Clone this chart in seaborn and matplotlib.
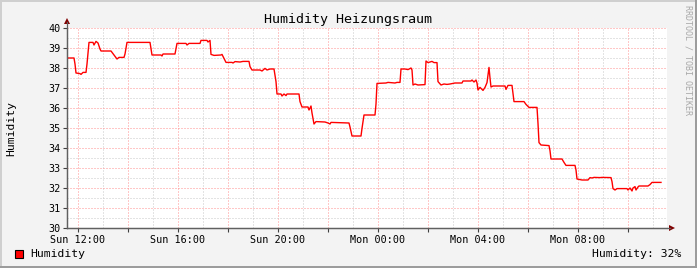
import matplotlib
matplotlib.use("Agg")
import matplotlib.pyplot as plt
import seaborn as sns
import pandas as pd
from matplotlib.patches import Rectangle, Polygon
from matplotlib.lines import Line2D

# ---- data (hours since Sun 00:00, humidity %) ----
hours = [11.56, 11.84, 11.88, 11.92, 12.08, 12.12, 12.20, 12.32, 12.36, 12.44,
         12.60, 12.64, 12.72, 12.80, 12.88, 12.92, 13.32, 13.44, 13.56, 13.64,
         13.84, 13.88, 13.96, 14.88, 14.92, 14.96, 15.32, 15.36, 15.40, 15.88,
         15.96, 16.32, 16.36, 16.44, 16.88, 16.92, 17.16, 17.20, 17.28, 17.32,
         17.44, 17.72, 17.76, 17.84, 17.92, 18.16, 18.20, 18.28, 18.48, 18.60,
         18.84, 18.88, 18.96, 19.28, 19.36, 19.48, 19.56, 19.68, 19.84, 19.92,
         19.96, 20.12, 20.16, 20.24, 20.32, 20.36, 20.84, 20.88, 20.96, 21.20,
         21.24, 21.32, 21.36, 21.44, 21.52, 21.88, 22.00, 22.08, 22.12, 22.84,
         22.88, 22.96, 23.32, 23.36, 23.44, 23.88, 23.92, 23.96, 24.32, 24.40,
         24.68, 24.76, 24.88, 24.92, 25.08, 25.20, 25.32, 25.36, 25.40, 25.48,
         25.60, 25.88, 25.92, 26.00, 26.16, 26.24, 26.36, 26.40, 26.52, 26.64,
         26.76, 26.88, 27.08, 27.36, 27.40, 27.72, 27.76, 27.84, 27.92, 27.96,
         28.00, 28.08, 28.20, 28.28, 28.36, 28.44, 28.48, 28.52, 28.60, 29.08,
         29.12, 29.20, 29.36, 29.40, 29.44, 29.84, 29.92, 30.04, 30.36, 30.40,
         30.44, 30.52, 30.84, 30.88, 30.92, 31.36, 31.44, 31.52, 31.88, 31.92,
         31.96, 32.04, 32.16, 32.40, 32.48, 32.56, 32.64, 32.88, 32.96, 33.32,
         33.36, 33.40, 33.48, 33.56, 33.96, 34.00, 34.08, 34.16, 34.20, 34.28,
         34.32, 34.40, 34.44, 34.80, 34.88, 34.96, 35.32]
humidity = [38.5, 38.5, 38.2, 37.75, 37.72, 37.68, 37.78, 37.78, 38.2, 39.28,
            39.28, 39.15, 39.33, 39.25, 38.95, 38.85, 38.85, 38.65, 38.45, 38.53,
            38.53, 38.7, 39.28, 39.28, 38.98, 38.65, 38.65, 38.6, 38.7, 38.7,
            39.23, 39.23, 39.15, 39.23, 39.23, 39.38, 39.38, 39.3, 39.38, 38.68,
            38.63, 38.65, 38.68, 38.48, 38.28, 38.28, 38.25, 38.32, 38.3, 38.33,
            38.33, 38.07, 37.9, 37.9, 37.85, 37.98, 37.9, 37.95, 37.95, 37.32,
            36.7, 36.7, 36.6, 36.7, 36.62, 36.7, 36.7, 36.32, 36.05, 36.05,
            35.9, 36.1, 35.75, 35.2, 35.32, 35.3, 35.25, 35.2, 35.28, 35.25,
            35.05, 34.6, 34.6, 34.98, 35.65, 35.65, 36.2, 37.23, 37.25, 37.28,
            37.25, 37.28, 37.28, 37.95, 37.95, 37.92, 38.0, 37.9, 37.15, 37.2,
            37.15, 37.17, 38.35, 38.27, 38.33, 38.27, 38.27, 37.32, 37.15, 37.2,
            37.18, 37.2, 37.25, 37.25, 37.35, 37.35, 37.4, 37.3, 37.4, 37.25,
            36.9, 37.03, 36.88, 37.03, 37.27, 38.03, 37.5, 37.05, 37.1, 37.1,
            36.93, 37.13, 37.13, 36.73, 36.32, 36.32, 36.18, 36.03, 36.03, 35.23,
            34.27, 34.15, 34.12, 33.87, 33.45, 33.45, 33.28, 33.13, 33.13, 32.9,
            32.45, 32.43, 32.4, 32.4, 32.52, 32.5, 32.53, 32.52, 32.53, 32.52,
            32.32, 31.97, 31.9, 31.97, 31.97, 31.9, 32.0, 31.85, 32.0, 32.07,
            31.9, 32.05, 32.1, 32.1, 32.17, 32.28, 32.28]

x_ticks = [12, 14, 16, 18, 20, 22, 24, 26, 28, 30, 32, 34]
x_labels = ["Sun 12:00", "", "Sun 16:00", "", "Sun 20:00", "", "Mon 00:00", "",
            "Mon 04:00", "", "Mon 08:00", ""]
y_ticks = [30, 31, 32, 33, 34, 35, 36, 37, 38, 39, 40]
title = "Humidity Heizungsraum"
series_name = "Humidity"
last_label = "Humidity: 32%"

df = pd.DataFrame({"hour": hours, "value": humidity})

W, H = 697, 268
BG = "#f3f3f3"
fig = plt.figure(figsize=(W / 100, H / 100), dpi=100)
fig.patch.set_facecolor(BG)

L, R, T, B = 67, 667, 28, 228
ax = fig.add_axes([L / W, 1 - B / H, (R - L) / W, (B - T) / H])
ax.set_facecolor("white")

sns.lineplot(data=df, x="hour", y="value", ax=ax, color="#ff0000",
             linewidth=1.0, estimator=None, sort=False, zorder=5)

ax.set_xlim(11.56, 35.56)
ax.set_ylim(30, 40)

mono = "DejaVu Sans Mono"
ax.set_xticks(x_ticks)
ax.set_xticklabels(x_labels, fontfamily=mono, fontsize=7.3, color="#000000")
ax.set_yticks(y_ticks)
ax.set_yticklabels([str(v) for v in y_ticks], fontfamily=mono, fontsize=7.3)
ax.set_xticks([h for h in range(12, 36)], minor=True)
ax.set_yticks([30 + 0.5 * i for i in range(21)], minor=True)
ax.tick_params(axis="both", which="major", length=3, width=0.8,
               color="#404040", pad=1.5)
ax.tick_params(axis="both", which="minor", length=0)
ax.tick_params(axis="x", pad=2)

ax.grid(which="minor", color="#c8c8c8", linestyle=(0, (1, 2)), linewidth=0.72)
ax.grid(which="major", color="#ff9090", linestyle=(0, (1, 2)), linewidth=0.72)
ax.set_axisbelow(True)

ax.set_xlabel("")
ax.set_ylabel("")
for s in ["top", "right"]:
    ax.spines[s].set_visible(False)
for s in ["left", "bottom"]:
    ax.spines[s].set_color("#606060")
    ax.spines[s].set_linewidth(0.9)

# axis arrows (figure pixel coords)
def px(x, y):
    return (x / W, 1 - y / H)

fig.add_artist(Line2D([px(67, 0)[0]] * 2, [px(0, 228)[1], px(0, 22)[1]],
                      color="#606060", lw=0.9))
fig.add_artist(Polygon([px(64, 24), px(70, 24), px(67, 18)], closed=True,
                       facecolor="#800000", edgecolor="none",
                       transform=fig.transFigure))
fig.add_artist(Line2D([px(67, 0)[0], px(670, 0)[0]], [px(0, 228)[1]] * 2,
                      color="#606060", lw=0.9))
fig.add_artist(Polygon([px(669, 225), px(669, 231), px(675, 228)], closed=True,
                       facecolor="#800000", edgecolor="none",
                       transform=fig.transFigure))

# texts
fig.text(348 / W, 1 - 19 / H, title, ha="center", va="center",
         fontfamily=mono, fontsize=9.6, color="#000000")
fig.text(11 / W, 1 - 128 / H, series_name, ha="center", va="center",
         rotation=90, fontfamily=mono, fontsize=8.2)
fig.text(688 / W, 1 - 5 / H, "RRDTOOL / TOBI OETIKER", ha="center", va="top",
         rotation=270, fontfamily=mono, fontsize=6, color="#a8a8a8")

# legend
fig.add_artist(Rectangle(px(15, 258), 8 / W, 8 / H, facecolor="#ff0000",
                         edgecolor="#000000", lw=0.8, transform=fig.transFigure))
fig.text(30 / W, 1 - 254 / H, series_name, ha="left", va="center",
         fontfamily=mono, fontsize=8.2)
fig.text(681 / W, 1 - 254 / H, last_label, ha="right", va="center",
         fontfamily=mono, fontsize=8.2)

# 3D frame
fig.add_artist(Rectangle((0, 0), 1, 2 / H, facecolor="#9c9c9c", edgecolor="none",
                         transform=fig.transFigure))
fig.add_artist(Rectangle((1 - 2 / W, 0), 2 / W, 1, facecolor="#9c9c9c",
                         edgecolor="none", transform=fig.transFigure))
fig.add_artist(Rectangle((0, 1 - 2 / H), 1 - 2 / W, 2 / H, facecolor="#cfcfcf",
                         edgecolor="none", transform=fig.transFigure))
fig.add_artist(Rectangle((0, 2 / H), 2 / W, 1 - 2 / H, facecolor="#cfcfcf",
                         edgecolor="none", transform=fig.transFigure))

fig.savefig("out.png", dpi=100, facecolor=BG)
